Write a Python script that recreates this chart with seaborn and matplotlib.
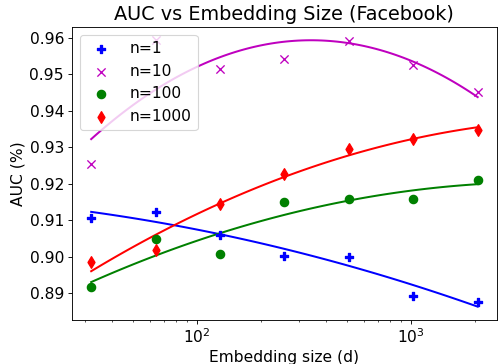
import numpy as np
import matplotlib
matplotlib.use("Agg")
import matplotlib.pyplot as plt
import seaborn as sns

dims = [32, 64, 128, 256, 512, 1024, 2048]
auc_n1 = [0.9107, 0.9123, 0.9060, 0.9002, 0.8999, 0.8893, 0.8877]
auc_n10 = [0.9254, 0.9592, 0.9514, 0.9542, 0.9591, 0.9525, 0.9452]
auc_n100 = [0.8916, 0.9048, 0.9007, 0.9150, 0.9157, 0.9159, 0.9209]
auc_n1000 = [0.8985, 0.9019, 0.9145, 0.9227, 0.9294, 0.9323, 0.9346]

series = [
    ("n=1", auc_n1, "b", "P"),
    ("n=10", auc_n10, "m", "x"),
    ("n=100", auc_n100, "g", "o"),
    ("n=1000", auc_n1000, "r", "d"),
]

plt.rcParams["font.size"] = 14
fig, ax = plt.subplots(figsize=(499 / 80, 364 / 80), dpi=80)
fig.subplots_adjust(left=0.144, right=0.996, bottom=0.121, top=0.926)

xs = np.logspace(np.log10(dims[0]), np.log10(dims[-1]), 100)
for name, vals, col, mk in series:
    sns.scatterplot(x=dims, y=vals, color=col, marker=mk, s=55, ax=ax,
                    label=name, edgecolor=col, linewidth=1.2, zorder=3)
    # quadratic fit in log2(d)
    coef = np.polyfit(np.log2(dims), vals, 2)
    sns.lineplot(x=xs, y=np.polyval(coef, np.log2(xs)), color=col,
                 linewidth=1.8, ax=ax, legend=False, zorder=2)

ax.set_xscale("log")
ax.set_title("AUC vs Embedding Size (Facebook)", fontsize=17.3)
ax.set_xlabel("Embedding size (d)", labelpad=3)
ax.set_ylabel("AUC (%)")
ax.legend(loc="upper left")

fig.savefig("out.png", dpi=80)
